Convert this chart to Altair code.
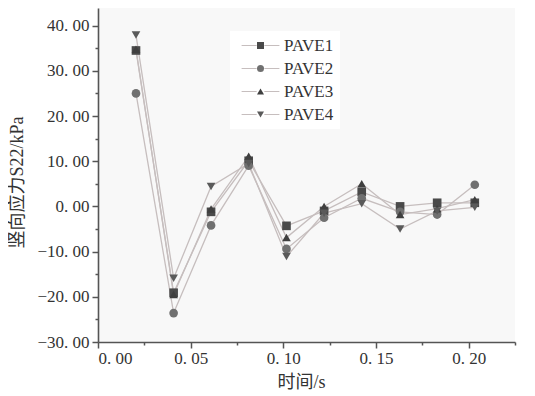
import altair as alt
import pandas as pd

# ---- data ----
times = [0.0205, 0.0408, 0.061, 0.0813, 0.1017, 0.122, 0.1423, 0.163, 0.183, 0.2033]
pave1 = [34.5, -19.1, -1.2, 10.1, -4.3, -1.0, 3.2, 0.0, 0.8, 0.8]
pave2 = [25.0, -23.6, -4.2, 9.0, -9.4, -2.5, 1.8, -1.2, -1.8, 4.8]
pave3 = [34.8, -19.5, -0.6, 11.1, -6.9, 0.0, 5.0, -1.8, -0.5, 1.5]
pave4 = [37.9, -15.9, 4.4, 9.5, -11.1, -1.5, 0.6, -5.0, -1.0, -0.2]
series_names = ["PAVE1", "PAVE2", "PAVE3", "PAVE4"]

y_major = [-30, -20, -10, 0, 10, 20, 30, 40]
y_minor = [-25, -15, -5, 5, 15, 25, 35]
x_major = [0.0, 0.05, 0.10, 0.15, 0.20]
x_minor = [0.025, 0.075, 0.125, 0.175, 0.225]

marker_shapes = ["square", "circle", "triangle-up", "triangle-down"]
marker_colors = ["#4a4a4a", "#707070", "#3f3f3f", "#5a5a5a"]
line_color = "#c6bebe"
seg_path = "M-5.4,0H-1.1M1.1,0H5.4"

rows = []
for name, vals in zip(series_names, [pave1, pave2, pave3, pave4]):
    for t, v in zip(times, vals):
        rows.append({"t": t, "v": v, "series": name})
df = pd.DataFrame(rows)

FONT = "'Liberation Serif', 'Noto Sans CJK SC', serif"
label_expr = "replace(format(datum.value, '.2f'), '.', '. ')"

xscale = alt.Scale(domain=[0, 0.225], nice=False, zero=False)
yscale = alt.Scale(domain=[-30, 43.9], nice=False, zero=False)

axis_color = "#555555"

x_main = alt.Axis(
    orient="bottom", values=x_major, labelExpr=label_expr, title="时间/s",
    grid=False, tickSize=6, tickWidth=1.5, tickColor=axis_color,
    domainColor=axis_color, domainWidth=1.6, labelFont=FONT, labelFontSize=17,
    labelColor="#333333", labelPadding=2, titleFont=FONT, titleFontSize=18,
    titleFontWeight="normal", titleColor="#333333", titleX=203, titleY=40,
    titleBaseline="middle", titleAlign="center",
)
y_main = alt.Axis(
    orient="left", values=y_major, labelExpr=label_expr, title="竖向应力S22/kPa",
    grid=False, tickSize=6, tickWidth=1.5, tickColor=axis_color,
    domainColor=axis_color, domainWidth=1.6, labelFont=FONT, labelFontSize=17,
    labelColor="#333333", labelPadding=3, titleFont=FONT, titleFontSize=18,
    titleFontWeight="normal", titleColor="#333333", titleX=-81, titleY=174,
    titleAngle=270, titleBaseline="middle", titleAlign="center",
)
x_minor_axis = alt.Axis(
    orient="bottom", values=x_minor, labels=False, domain=False, grid=False,
    tickSize=3, tickWidth=1.5, tickColor=axis_color, title=None,
)
y_minor_axis = alt.Axis(
    orient="left", values=y_minor, labels=False, domain=False, grid=False,
    tickSize=3, tickWidth=1.5, tickColor=axis_color, title=None,
)

common_leg = dict(
    title=None, orient="none", legendX=132, legendY=23,
    padding=6, rowPadding=5, symbolSize=49, symbolStrokeWidth=1.2,
    symbolOffset=16, labelOffset=15,
    labelFont=FONT, labelFontSize=17, labelColor="#333333",
    labelExpr="datum.label + '\u00a0\u00a0\u00a0\u00a0\u00a0\u00a0'",
)
leg_markers = alt.Legend(fillColor="white", zindex=1, **common_leg)
leg_lines = alt.Legend(labelOpacity=0, zindex=2, **common_leg)

lines = alt.Chart(df).mark_line(color=line_color, strokeWidth=1.3).encode(
    x=alt.X("t:Q", scale=xscale, axis=x_main),
    y=alt.Y("v:Q", scale=yscale, axis=y_main),
    detail="series:N",
)

points = alt.Chart(df).mark_point(filled=True, size=75, opacity=1).encode(
    x=alt.X("t:Q", scale=xscale, axis=None),
    y=alt.Y("v:Q", scale=yscale, axis=None),
    shape=alt.Shape("series:N", scale=alt.Scale(domain=series_names, range=marker_shapes), legend=leg_markers),
    fill=alt.Fill("series:N", scale=alt.Scale(domain=series_names, range=marker_colors), legend=leg_markers),
)

legend_lines = alt.Chart(df).mark_point(filled=False, size=0, opacity=1, strokeWidth=1.2).encode(
    x=alt.X("t:Q", scale=xscale, axis=x_minor_axis),
    y=alt.Y("v:Q", scale=yscale, axis=y_minor_axis),
    shape=alt.Shape("series:N", scale=alt.Scale(domain=series_names, range=[seg_path] * 4), legend=leg_lines),
    stroke=alt.Stroke("series:N", scale=alt.Scale(domain=series_names, range=[line_color] * 4), legend=leg_lines),
)

chart = (
    alt.layer(lines, points, legend_lines)
    .resolve_scale(shape="independent", fill="independent", stroke="independent")
    .resolve_axis(x="independent", y="independent")
    .resolve_legend(shape="independent", fill="independent", stroke="independent")
    .properties(
        width=417, height=334,
        autosize=alt.AutoSizeParams(type="none"),
        padding={"left": 90, "top": 0, "right": 12, "bottom": 50},
        background="white",
    )
    .configure_view(stroke=None, fill="#f8f8f8")
)

chart.save("out.html", embed_options={"renderer": "svg", "actions": False})
